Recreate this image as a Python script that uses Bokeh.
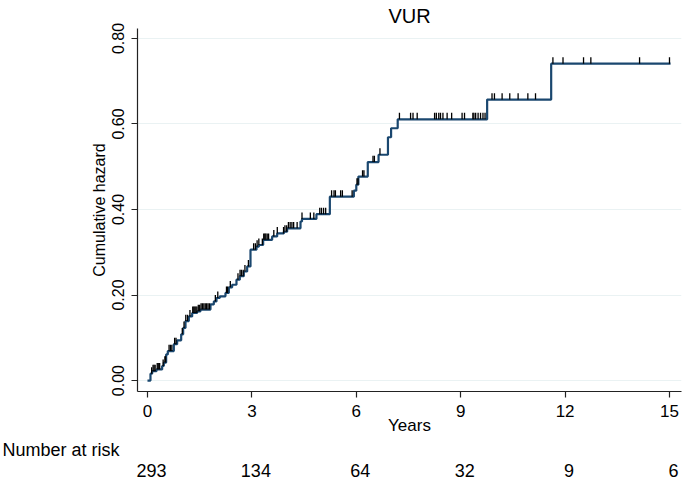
import numpy as np
from bokeh.plotting import figure
from bokeh.models import (FixedTicker, Range1d, NumeralTickFormatter, LinearAxis, Title)
from bokeh.embed import file_html
from bokeh.resources import INLINE

# ---------------- data ----------------
chart_title = "VUR"
x_label = "Years"
y_label = "Cumulative hazard"
risk_title = "Number at risk"

event_times = [0.086, 0.134, 0.259, 0.421, 0.469, 0.536, 0.584, 0.757, 0.852, 0.968,
               1.025, 1.092, 1.188, 1.284, 1.427, 1.523, 1.810, 1.906, 1.983, 2.078,
               2.241, 2.337, 2.433, 2.557, 2.653, 2.768, 2.864, 2.960, 3.132, 3.199,
               3.324, 3.582, 3.726, 3.917, 4.013, 4.397, 4.44, 4.855, 5.24, 5.93,
               6.00, 6.06, 6.33, 6.64, 6.91, 7.00, 7.19, 9.76, 11.60]
cum_hazard = [0.016, 0.022, 0.026, 0.034, 0.042, 0.061, 0.069, 0.085, 0.094, 0.108,
              0.123, 0.139, 0.150, 0.158, 0.162, 0.166, 0.178, 0.185, 0.193, 0.197,
              0.205, 0.218, 0.224, 0.236, 0.244, 0.255, 0.267, 0.306, 0.313, 0.317,
              0.329, 0.337, 0.344, 0.348, 0.356, 0.372, 0.378, 0.389, 0.430, 0.444,
              0.458, 0.477, 0.511, 0.528, 0.569, 0.590, 0.611, 0.657, 0.741]
end_time = 15.03

censor_times = [0.12, 0.16, 0.19, 0.22, 0.28, 0.31, 0.35, 0.45, 0.50, 0.52, 0.62, 0.66,
                0.70, 0.78, 0.82, 1.00, 1.05, 1.10, 1.15, 1.22, 1.30, 1.33, 1.36, 1.39,
                1.42, 1.46, 1.50, 1.54, 1.58, 1.62, 1.66, 1.70, 1.74, 1.78, 1.95, 2.02,
                2.27, 2.30, 2.38, 2.60, 2.66, 2.70, 2.75, 2.80, 2.90, 3.05, 3.10, 3.15,
                3.20, 3.30, 3.34, 3.37, 3.40, 3.44, 3.48, 3.63, 3.73, 3.91, 3.95, 4.00,
                4.05, 4.10, 4.15, 4.20, 4.30, 4.44, 4.68, 4.78, 4.95, 5.00, 5.06, 5.12,
                5.29, 5.36, 5.40, 5.55, 5.60, 5.88, 6.02, 6.05, 6.18, 6.22, 6.48, 6.52,
                6.68, 7.24, 7.56, 7.63, 7.75, 8.25, 8.30, 8.37, 8.42, 8.49, 8.61, 8.74,
                9.04, 9.11, 9.35, 9.38, 9.43, 9.50, 9.57, 9.64, 9.70, 9.90, 9.97, 10.19,
                10.41, 10.65, 10.93, 11.15, 11.65, 11.94, 12.53, 12.74, 14.14, 15.00]

x_ticks = [0, 3, 6, 9, 12, 15]
y_ticks = [0.0, 0.2, 0.4, 0.6, 0.8]
risk_times = [0, 3, 6, 9, 12, 15]
number_at_risk = [293, 134, 64, 32, 9, 6]

# ---------------- styling ----------------
FONT = "Liberation Sans"
TXT = "#000000"
LINE = "#1a476f"
AX = "#222222"
PX_PER_YEAR = 34.8
X0, X1 = -0.287, 15.345

p = figure(width=685, height=480, output_backend="svg", toolbar_location=None,
           x_range=Range1d(X0, X1), y_range=Range1d(-0.0256, 0.8233),
           min_border_left=137, min_border_right=4, min_border_top=26,
           min_border_bottom=89)
p.title.text = chart_title
p.title.align = "center"
p.title.text_font = FONT
p.title.text_font_size = "20px"
p.title.text_font_style = "normal"
p.title.text_color = TXT
if hasattr(p.title, "standoff"):
    p.title.standoff = 4
p.outline_line_color = None
p.background_fill_color = "white"
p.border_fill_color = "white"

# step curve
step_x = [0.0] + list(event_times) + [end_time]
step_y = [0.0] + list(cum_hazard) + [cum_hazard[-1]]
p.step(step_x, step_y, mode="after", line_color=LINE, line_width=2.2)

# censoring ticks
ev = np.array(event_times)
hz = np.concatenate([[0.0], np.array(cum_hazard)])
ct = np.array(censor_times)
lv = hz[np.searchsorted(ev, ct, side="right")]
p.segment(x0=ct, y0=lv, x1=ct, y1=lv + 0.015, line_color="black", line_width=1.3)

# axes
p.xaxis.ticker = FixedTicker(ticks=x_ticks)
p.yaxis.ticker = FixedTicker(ticks=y_ticks)
p.yaxis.formatter = NumeralTickFormatter(format="0.00")
p.xgrid.visible = False
p.ygrid.grid_line_color = "#EAF2F3"
p.ygrid.grid_line_width = 1.2

for ax in (p.xaxis[0], p.yaxis[0]):
    ax.axis_line_color = AX
    ax.axis_line_width = 1.2
    ax.major_tick_line_color = AX
    ax.major_tick_line_width = 1.2
    ax.major_tick_out = 6
    ax.major_tick_in = 0
    ax.minor_tick_out = 0
    ax.minor_tick_in = 0
    ax.major_label_text_font = FONT
    ax.major_label_text_color = TXT
    ax.axis_label_text_font = FONT
    ax.axis_label_text_color = TXT
    ax.axis_label_text_font_style = "normal"

p.xaxis.major_label_text_font_size = "17px"
p.xaxis.major_label_standoff = 7
p.xaxis.axis_label = x_label
p.xaxis.axis_label_text_font_size = "17px"
p.xaxis.axis_label_standoff = -4

p.yaxis.major_label_orientation = "vertical"
p.yaxis.major_label_text_font_size = "16px"
p.yaxis.major_label_standoff = 7
p.yaxis.axis_label = y_label
p.yaxis.axis_label_text_font_size = "16px"
p.yaxis.axis_label_standoff = 2

# ---------------- number-at-risk table ----------------
risk_head = Title(text=risk_title, align="left", offset=-135,
                  text_font=FONT, text_font_size="18px", text_font_style="normal",
                  text_color=TXT)
if hasattr(risk_head, "standoff"):
    risk_head.standoff = 0
p.add_layout(risk_head, "below")

# numbers sit a few pixels right of the year ticks in the reference
shift = 4 / PX_PER_YEAR
p.extra_x_ranges = {"risk": Range1d(X0 - shift, X1 - shift)}
risk_axis = LinearAxis(x_range_name="risk",
                       ticker=FixedTicker(ticks=risk_times),
                       major_label_overrides={t: str(n) for t, n in zip(risk_times, number_at_risk)},
                       axis_line_color=None, major_tick_line_color=None,
                       minor_tick_line_color=None, major_tick_out=0, major_tick_in=0,
                       minor_tick_out=0, minor_tick_in=0, major_label_standoff=4,
                       major_label_text_font=FONT, major_label_text_font_size="18px",
                       major_label_text_color=TXT)
p.add_layout(risk_axis, "below")

open("out.html", "w").write(file_html(p, INLINE))
